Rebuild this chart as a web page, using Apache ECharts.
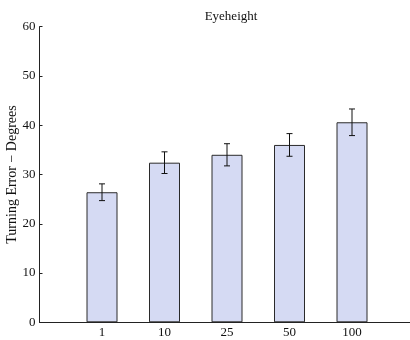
<!DOCTYPE html>
<html>
<head>
<meta charset="utf-8">
<script src="https://cdn.jsdelivr.net/npm/echarts@6/dist/echarts.min.js"></script>
<style>
html, body { margin: 0; padding: 0; background: #fff; }
#chart { width: 410px; height: 340px; }
</style>
</head>
<body>
<div id="chart"></div>
<script>
// Eyeheight conditions and mean turning error (degrees) with error half-widths
const categories = ['1', '10', '25', '50', '100'];
const meanError = [26.4, 32.4, 34.0, 36.0, 40.6];
const errHalf = [1.7, 2.2, 2.25, 2.3, 2.7];
const yTicks = [0, 10, 20, 30, 40, 50, 60];

const FONT = 'Liberation Serif';

// Bars sit at positions 1..N on a numeric axis running from 0 to N+1
const barData = meanError.map((v, i) => [i + 1, v]);
const errData = meanError.map((v, i) => [i + 1, v - errHalf[i], v + errHalf[i]]);

const chart = echarts.init(document.getElementById('chart'), null, { renderer: 'canvas' });

chart.setOption({
  animation: false,
  backgroundColor: '#fff',
  title: {
    text: 'Eyeheight',
    left: 226,
    top: 5,
    textAlign: 'center',
    textStyle: { fontFamily: FONT, fontSize: 13, fontWeight: 'normal', color: '#111' }
  },
  grid: {
    left: 39.5, top: 26.7, width: 375, height: 295.6,
    containLabel: false, outerBoundsMode: 'none'
  },
  xAxis: {
    type: 'value',
    min: 0,
    max: categories.length + 1,
    interval: 1,
    axisLine: { show: true, onZero: false, lineStyle: { color: '#222', width: 1 } },
    axisTick: { show: false },
    splitLine: { show: false },
    axisLabel: {
      fontFamily: FONT, fontSize: 13, color: '#111', margin: 4,
      formatter: v => (v >= 1 && v <= categories.length) ? categories[v - 1] : ''
    }
  },
  yAxis: {
    type: 'value',
    min: yTicks[0],
    max: yTicks[yTicks.length - 1],
    interval: 10,
    name: 'Turning Error \u2212 Degrees',
    nameLocation: 'middle',
    nameGap: 20,
    nameMoveOverlap: false,
    nameTextStyle: { fontFamily: FONT, fontSize: 14, color: '#111', padding: [0, 0, 0, 0] },
    axisLine: { show: true, lineStyle: { color: '#222', width: 1 } },
    axisTick: { show: true, inside: true, length: 3, lineStyle: { color: '#222' } },
    splitLine: { show: false },
    axisLabel: { fontFamily: FONT, fontSize: 13, color: '#111', margin: 4 }
  },
  series: [
    {
      type: 'bar',
      data: barData,
      barWidth: 31,
      itemStyle: { color: '#d5daf3', borderColor: '#2a2a2a', borderWidth: 1 }
    },
    {
      type: 'custom',
      data: errData,
      z: 10,
      renderItem: function (params, api) {
        const x = api.value(0);
        const lo = api.coord([x, api.value(1)]);
        const hi = api.coord([x, api.value(2)]);
        const cap = 3;
        const style = { stroke: '#111', lineWidth: 1 };
        return {
          type: 'group',
          children: [
            { type: 'line', shape: { x1: lo[0], y1: lo[1], x2: hi[0], y2: hi[1] }, style },
            { type: 'line', shape: { x1: hi[0] - cap, y1: hi[1], x2: hi[0] + cap, y2: hi[1] }, style },
            { type: 'line', shape: { x1: lo[0] - cap, y1: lo[1], x2: lo[0] + cap, y2: lo[1] }, style }
          ]
        };
      }
    }
  ]
});
</script>
</body>
</html>
